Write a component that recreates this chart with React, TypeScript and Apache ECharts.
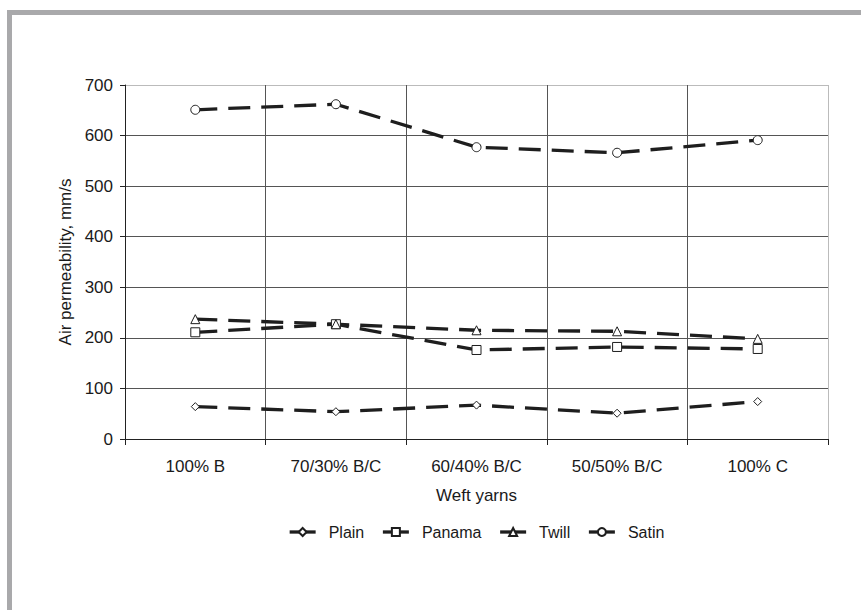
import React, { useEffect, useRef } from "react";
import * as echarts from "echarts";

const categories = ["100% B", "70/30% B/C", "60/40% B/C", "50/50% B/C", "100% C"];
const plain = [64, 54, 67, 51, 74];
const panama = [211, 227, 176, 182, 178];
const twill = [237, 227, 215, 213, 198];
const satin = [651, 662, 577, 566, 591];
const yTicks = [0, 100, 200, 300, 400, 500, 600, 700];

const FONT = "'Liberation Sans', Arial, sans-serif";
const TXT = "#1a1a1a";

export default function App() {
  const ref = useRef<HTMLDivElement>(null);
  useEffect(() => {
    if (!ref.current) return;
    const chart = echarts.init(ref.current, undefined, { renderer: "svg" });
    const mk = (name: string, data: number[], symbol: string, size: number) => ({
      name,
      type: "line",
      data,
      symbol,
      symbolSize: size,
      showAllSymbol: true,
      lineStyle: { color: "#1e1e1e", width: 3.3, type: [22, 11] },
      itemStyle: { color: "#ffffff", borderColor: "#1e1e1e", borderWidth: 1 },
      z: 3,
    });
    chart.setOption({
      animation: false,
      backgroundColor: "#ffffff",
      textStyle: { fontFamily: FONT },
      graphic: [
        { type: "rect", shape: { x: 7, y: 10, width: 854, height: 5 }, style: { fill: "#a9a9ab" }, silent: true },
        { type: "rect", shape: { x: 7, y: 10, width: 5, height: 600 }, style: { fill: "#a9a9ab" }, silent: true },
      ],
      grid: { left: 125, right: 33, top: 85, bottom: 171, containLabel: false },
      legend: {
        left: 283,
        top: 519,
        itemWidth: 26,
        itemHeight: 10,
        itemGap: 17,
        textStyle: { fontFamily: FONT, fontSize: 16, color: TXT, padding: [0, 0, 0, 8] },
        lineStyle: { type: "solid", width: 3.3 },
        data: ["Plain", "Panama", "Twill", "Satin"],
      },
      xAxis: {
        type: "category",
        data: categories,
        boundaryGap: true,
        name: "Weft yarns",
        nameLocation: "middle",
        nameGap: 48,
        nameTextStyle: { fontFamily: FONT, fontSize: 17, color: TXT },
        axisLine: { lineStyle: { color: "#222", width: 1 } },
        axisTick: { show: true, interval: 0, length: 6, lineStyle: { color: "#222" } },
        axisLabel: { interval: 0, margin: 19, fontFamily: FONT, fontSize: 17, color: TXT },
        splitLine: {
          show: true,
          interval: 0,
          lineStyle: { color: ["#555", "#555", "#555", "#555", "#555", "#bbb"], width: 1 },
        },
      },
      yAxis: {
        type: "value",
        min: yTicks[0],
        max: yTicks[yTicks.length - 1],
        interval: 100,
        name: "Air permeability, mm/s",
        nameLocation: "middle",
        nameGap: 50,
        nameTextStyle: { fontFamily: FONT, fontSize: 17, color: TXT },
        axisLine: { show: true, lineStyle: { color: "#222", width: 1 } },
        axisTick: { show: true, length: 5, lineStyle: { color: "#222" } },
        axisLabel: { margin: 12, fontFamily: FONT, fontSize: 17, color: TXT },
        splitLine: {
          show: true,
          lineStyle: { color: ["#555", "#555", "#555", "#555", "#555", "#555", "#555", "#bbb"], width: 1 },
        },
      },
      series: [
        mk("Plain", plain, "diamond", 8),
        mk("Panama", panama, "rect", 9),
        mk("Twill", twill, "triangle", 9),
        mk("Satin", satin, "circle", 9),
      ],
    });
    return () => chart.dispose();
  }, []);
  return (
    <div
      ref={ref}
      style={{ position: "fixed", left: 0, top: 0, width: 861, height: 610, background: "#fff" }}
    />
  );
}
